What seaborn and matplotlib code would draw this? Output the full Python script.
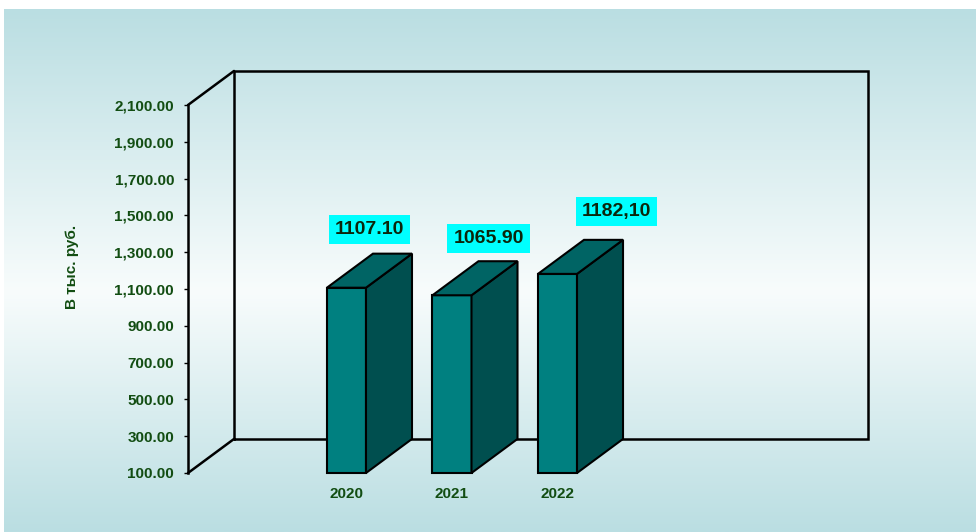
import numpy as np
import pandas as pd
import matplotlib
matplotlib.use("Agg")
import matplotlib.pyplot as plt
from matplotlib.colors import LinearSegmentedColormap
from matplotlib.patches import Polygon
from matplotlib.lines import Line2D
from matplotlib.ticker import FuncFormatter
import seaborn as sns

# ---- data ----
years = ["2020", "2021", "2022"]
values = [1107.10, 1065.90, 1182.10]
value_labels = ["1107.10", "1065.90", "1182,10"]
y_ticks = [100, 300, 500, 700, 900, 1100, 1300, 1500, 1700, 1900, 2100]
y_label = "В тыс. руб."

# ---- style ----
sns.set_theme(style="white")
plt.rcParams["font.family"] = ["Liberation Sans", "DejaVu Sans"]
plt.rcParams["font.weight"] = "bold"

GREEN = "#124d12"
FRONT = "#008080"
TOP = "#006464"
SIDE = "#004f4f"

fig = plt.figure(figsize=(9.76, 5.32), dpi=100)
fig.patch.set_facecolor("white")

# background gradient panel
bg = fig.add_axes([4 / 976, 0, 972 / 976, 523 / 532], zorder=-10)
cmap = LinearSegmentedColormap.from_list(
    "bg", [(0.0, "#badee2"), (0.54, "#f8fcfc"), (1.0, "#badee2")])
bg.imshow(np.linspace(0, 1, 512).reshape(-1, 1), aspect="auto", cmap=cmap,
          extent=[0, 1, 0, 1], origin="upper")
bg.axis("off")

# main axes (front plane)
ax = fig.add_axes([188 / 976, 59 / 532, 634 / 976, 368 / 532])
ax.patch.set_alpha(0)

df = pd.DataFrame({"year": years, "value": values})
sns.barplot(data=df, x="year", y="value", color=FRONT, saturation=1,
            width=0.37, edgecolor="black", linewidth=1.5, ax=ax, zorder=3)

XL = (-1.502, 4.507)
YL = (100, 2100)
ax.set_xlim(*XL)
ax.set_ylim(*YL)
ax.autoscale(False)

DX = 0.436   # depth in category units
DY = 185.0   # depth in value units

# floor at axis minimum
for p in ax.patches:
    top = p.get_y() + p.get_height()
    p.set_y(YL[0])
    p.set_height(top - YL[0])
    p.set_clip_on(False)

# walls
x0, x1 = XL
y0, y1 = YL
wall_kw = dict(color="black", lw=1.8, clip_on=False, zorder=1,
               solid_joinstyle="miter")
ax.add_line(Line2D([x0 + DX, x1 + DX, x1 + DX, x0 + DX, x0 + DX],
                   [y0 + DY, y0 + DY, y1 + DY, y1 + DY, y0 + DY], **wall_kw))
ax.add_line(Line2D([x0, x0 + DX], [y1, y1 + DY], **wall_kw))
ax.add_line(Line2D([x0, x0 + DX], [y0, y0 + DY], **wall_kw))

# 3D faces of bars
for p in list(ax.patches):
    bx0 = p.get_x()
    bx1 = bx0 + p.get_width()
    b0 = p.get_y()
    t = b0 + p.get_height()
    side = Polygon([(bx1, b0), (bx1 + DX, b0 + DY), (bx1 + DX, t + DY), (bx1, t)],
                   closed=True, fc=SIDE, ec="black", lw=1.5, clip_on=False,
                   zorder=3.2, joinstyle="miter")
    topf = Polygon([(bx0, t), (bx1, t), (bx1 + DX, t + DY), (bx0 + DX, t + DY)],
                   closed=True, fc=TOP, ec="black", lw=1.5, clip_on=False,
                   zorder=3.3, joinstyle="miter")
    ax.add_patch(side)
    ax.add_patch(topf)

# spines
for s in ["top", "right", "bottom"]:
    ax.spines[s].set_visible(False)
ax.spines["left"].set_color("black")
ax.spines["left"].set_linewidth(1.8)
ax.spines["left"].set_zorder(1)

# ticks
ax.set_yticks(y_ticks)
ax.yaxis.set_major_formatter(FuncFormatter(lambda v, _: f"{v:,.2f}"))
ax.tick_params(axis="y", left=True, direction="out", length=3, width=1,
               color="black", pad=7, labelsize=11, labelcolor=GREEN)
ax.tick_params(axis="x", bottom=False, length=0, pad=10, labelsize=11,
               labelcolor=GREEN)
for lab in ax.get_xticklabels() + ax.get_yticklabels():
    lab.set_fontweight("bold")

ax.set_xlabel("")
ax.set_ylabel(y_label, fontsize=11, fontweight="bold", color=GREEN, va="center")
ax.yaxis.set_label_coords(-0.183, 0.56)

# value labels
offsets_pt = [(16.6, 41.8), (26.3, 41.0), (42.8, 45.0)]
for i, (v, lab, off) in enumerate(zip(values, value_labels, offsets_pt)):
    ax.annotate(lab, xy=(i, v), xytext=off, textcoords="offset points",
                ha="center", va="center", fontsize=14, fontweight="bold",
                color="#0b260b", annotation_clip=False, zorder=6,
                bbox=dict(boxstyle="square,pad=0.3", fc="#00ffff", ec="none"))

fig.savefig("out.png", dpi=100)
